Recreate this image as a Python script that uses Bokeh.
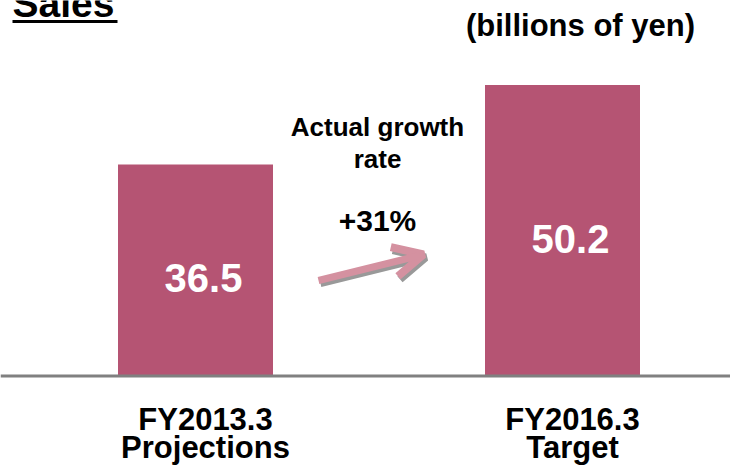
from bokeh.plotting import figure
from bokeh.models import Range1d, Span, Arrow, OpenHead
from bokeh.core.properties import value
from bokeh.embed import file_html
from bokeh.resources import INLINE

# ---- data ----
cat_line1 = ["FY2013.3", "FY2016.3"]
cat_line2 = ["Projections", "Target"]
sales = [36.5, 50.2]
sales_labels = ["36.5", "50.2"]
title_text = "Sales"
unit_text = "(billions of yen)"
growth_caption = ["Actual growth", "rate"]
growth_text = "+31%"

# ---- layout constants ----
W, H = 730, 467
PX = 211.5 / 36.5        # pixels per billion yen
BASE_Y = 375.5           # pixel row of the zero line
X0, STEP = 195, 367      # pixel of first category centre, spacing
BAR_W = 155 / STEP

BAR_COLOR = "#b55473"
ARROW_COLOR = "#d491a0"
FONT = value("Liberation Sans")


def fx(sx):
    return (sx - X0) / STEP


def fy(sy):
    return (BASE_Y - sy) / PX


p = figure(width=W, height=H, output_backend="svg", toolbar_location=None,
           x_range=Range1d(-X0 / STEP, (W - X0) / STEP),
           y_range=Range1d(-(H - BASE_Y) / PX, BASE_Y / PX),
           min_border=0, outline_line_color=None)
p.axis.visible = False
p.grid.visible = False
p.background_fill_color = "white"
p.border_fill_color = "white"

xs = list(range(len(sales)))

p.vbar(x=xs, top=sales, bottom=0, width=BAR_W, fill_color=BAR_COLOR, line_color=None)

p.add_layout(Span(location=0, dimension="width", line_color="#808080", line_width=3))


def label(x, y, text, size, color="black", align="center", **kw):
    p.text(x=x, y=y, text=text, text_align=align, text_baseline="middle",
           text_color=color, text_font=FONT, text_font_style="bold",
           text_font_size=size, **kw)


# value labels inside bars
label(xs, [v / 2 for v in sales], sales_labels, "40px", color="white",
      x_offset=8, y_offset=8)

# category labels
label(xs, [fy(419)] * len(xs), cat_line1, "31px", x_offset=10)
label(xs, [fy(447)] * len(xs), cat_line2, "31px", x_offset=10)

# title with underline
label([fx(12)], [fy(3)], [title_text], "39px", align="left")
p.segment(x0=[fx(12)], y0=[fy(21)], x1=[fx(117)], y1=[fy(21)],
          line_color="black", line_width=3)

# unit
label([fx(580)], [fy(25)], [unit_text], "31px")

# growth caption
label([fx(377)] * 2, [fy(126), fy(158)], growth_caption, "26px")
label([fx(377)], [fy(220)], [growth_text], "30px")

# arrow with shadow
for dx, dy, col in [(2, 3, "#999999"), (0, 0, ARROW_COLOR)]:
    p.add_layout(Arrow(x_start=fx(318 + dx), y_start=fy(280 + dy),
                       x_end=fx(423 + dx), y_end=fy(254 + dy),
                       line_color=col, line_width=7,
                       end=OpenHead(size=30, line_width=8, line_color=col)))

open("out.html", "w").write(file_html(p, INLINE))
